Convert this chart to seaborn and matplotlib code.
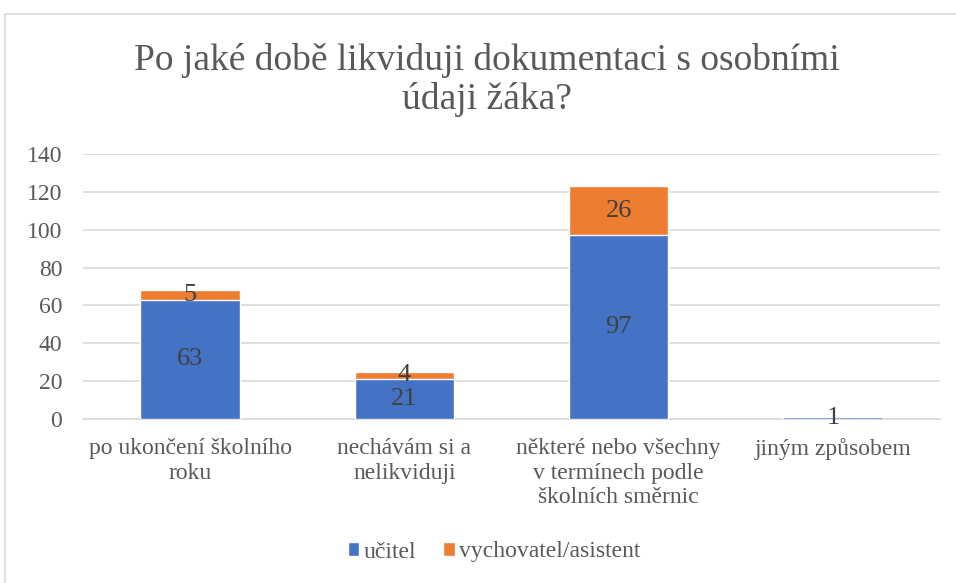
import matplotlib
matplotlib.use("Agg")
import matplotlib.pyplot as plt
from matplotlib.patches import Patch, Rectangle
import seaborn as sns
import pandas as pd
import numpy as np

categories = [
    "po ukončení školního\nroku",
    "nechávám si a\nnelikviduji",
    "některé nebo všechny\nv termínech podle\nškolních směrnic",
    "jiným způsobem",
]
ucitel = [63, 21, 97, 1]
vychovatel = [5, 4, 26, 0]
series_names = ["učitel", "vychovatel/asistent"]
yticks = [0, 20, 40, 60, 80, 100, 120, 140]

BLUE = "#4472C4"
ORANGE = "#ED7D31"
TEXT = "#404040"
TICK = "#595959"
GRID = "#D9D9D9"

sns.set_theme(style="white")
plt.rcParams["font.family"] = ["Liberation Serif", "DejaVu Serif"]

df = pd.DataFrame({"kat": categories, "ucitel": ucitel, "vych": vychovatel})
df["total"] = df["ucitel"] + df["vych"]

fig = plt.figure(figsize=(9.56, 5.83), dpi=100)
ax = fig.add_axes([83 / 956, 164 / 583, 857 / 956, 265 / 583])

# horní část (celkem) oranžově, přes ni učitel modře
sns.barplot(data=df, x="kat", y="total", color=ORANGE, width=0.465,
            saturation=1, ax=ax, zorder=2)
sns.barplot(data=df, x="kat", y="ucitel", color=BLUE, width=0.465,
            saturation=1, ax=ax, zorder=3)

x = np.arange(len(categories))
for i in range(len(categories)):
    u, v = df["ucitel"][i], df["vych"][i]
    if u > 0:
        ax.text(x[i], u / 2, str(u), ha="center", va="center",
                fontsize=19, color=TEXT, zorder=5)
    if v > 0:
        ax.text(x[i], u + v / 2, str(v), ha="center", va="center",
                fontsize=19, color=TEXT, zorder=5)

ax.set_ylim(0, 140)
ax.set_xlim(-0.5, len(categories) - 0.5)
ax.set_yticks(yticks)
ax.yaxis.grid(True, color=GRID, linewidth=1.2, zorder=0)
ax.set_axisbelow(True)
for s in ["top", "right", "left"]:
    ax.spines[s].set_visible(False)
ax.spines["bottom"].set_color(GRID)
ax.spines["bottom"].set_linewidth(1.2)
ax.spines["bottom"].set_zorder(1)
ax.tick_params(axis="both", length=0, labelsize=17, colors=TICK)
ax.tick_params(axis="x", pad=14)
ax.tick_params(axis="y", pad=15)
ax.set_xlabel("")
ax.set_ylabel("")
ax.set_xticks(x)
ax.set_xticklabels(categories, linespacing=1.2, va="top")

fig.text(487 / 956, 1 - 80 / 583,
         "Po jaké době likviduji dokumentaci s osobními\núdaji žáka?",
         ha="center", va="center", fontsize=27, color=TICK, linespacing=1.15)

handles = [Patch(facecolor=BLUE, label=series_names[0]),
           Patch(facecolor=ORANGE, label=series_names[1])]
leg = fig.legend(handles=handles, loc="center", bbox_to_anchor=(494 / 956, 1 - 552 / 583),
                 ncol=2, frameon=False, fontsize=17, handlelength=0.5,
                 handleheight=0.5, handletextpad=0.17, columnspacing=1.15)
for t in leg.get_texts():
    t.set_color(TICK)

fig.patches.append(Rectangle((5 / 956, -0.1), 1.0, 1 - 14 / 583 + 0.1,
                             transform=fig.transFigure, fill=False,
                             edgecolor=GRID, linewidth=1.2))

fig.savefig("out.png", dpi=100)
